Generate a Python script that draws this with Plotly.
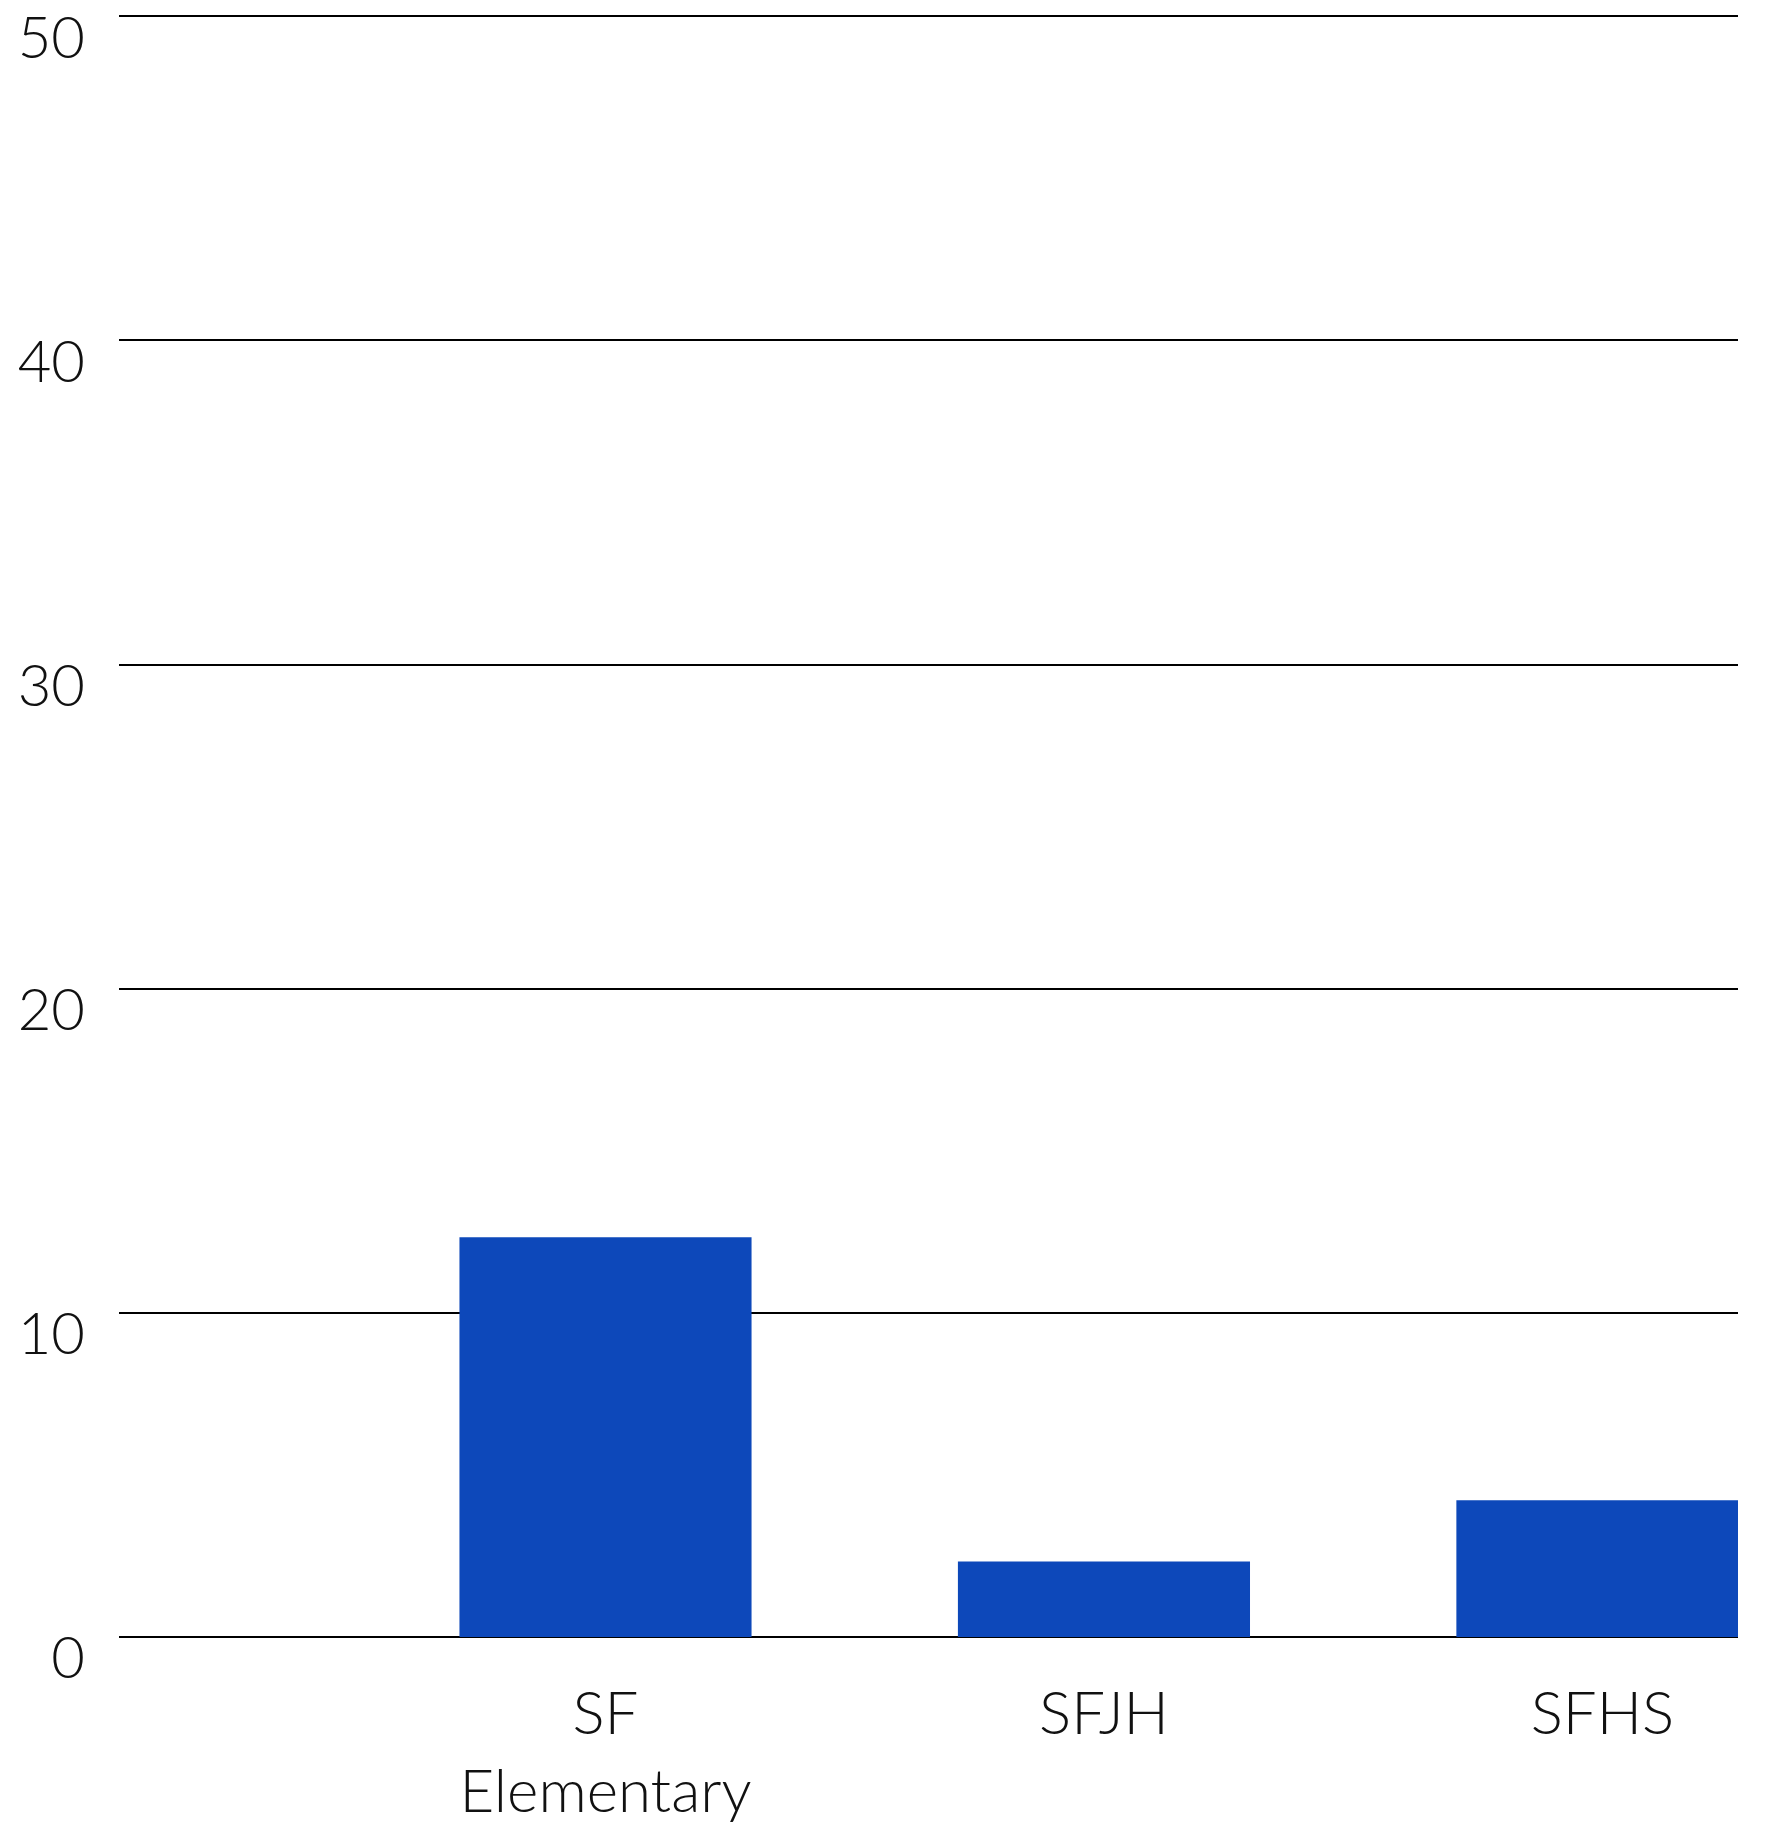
import plotly.graph_objects as go

categories = ["SF Elementary", "SFJH", "SFHS"]
tick_labels = ["SF<br>Elementary", "SFJH", "SFHS"]
values = [12.33, 2.33, 4.22]
y_ticks = [0, 10, 20, 30, 40, 50]

FONT = "Lato, 'Open Sans', 'Noto Sans', sans-serif"

fig = go.Figure(
    go.Bar(
        x=categories,
        y=values,
        width=0.586,
        marker=dict(color="#0D48BA", line=dict(width=0)),
        hoverinfo="skip",
    )
)

# page body has an 8px default margin, so the figure is sized to fit inside it
fig.update_layout(
    width=1750,
    height=1827,
    margin=dict(l=111, r=20, t=5, b=198, autoexpand=False),
    paper_bgcolor="white",
    plot_bgcolor="white",
    showlegend=False,
    font=dict(family=FONT, size=60, color="#111111", weight=300),
)

fig.update_xaxes(
    type="category",
    categoryorder="array",
    categoryarray=categories,
    tickvals=categories,
    ticktext=tick_labels,
    range=[-0.976, 2.272],
    showgrid=False,
    showline=False,
    zeroline=False,
    ticks="",
    ticklabelstandoff=36,
    automargin=False,
    tickfont=dict(family=FONT, size=60, color="#111111", weight=300),
)

fig.update_yaxes(
    range=[0, 50.1],
    tickvals=y_ticks,
    showgrid=True,
    gridcolor="black",
    gridwidth=2,
    zeroline=True,
    zerolinecolor="black",
    zerolinewidth=2,
    showline=False,
    ticks="",
    ticklabelstandoff=33,
    ticklabelshift=21,
    ticklabeloverflow="allow",
    automargin=False,
    tickfont=dict(family=FONT, size=58, color="#111111", weight=300),
)

fig.write_html("out.html")
